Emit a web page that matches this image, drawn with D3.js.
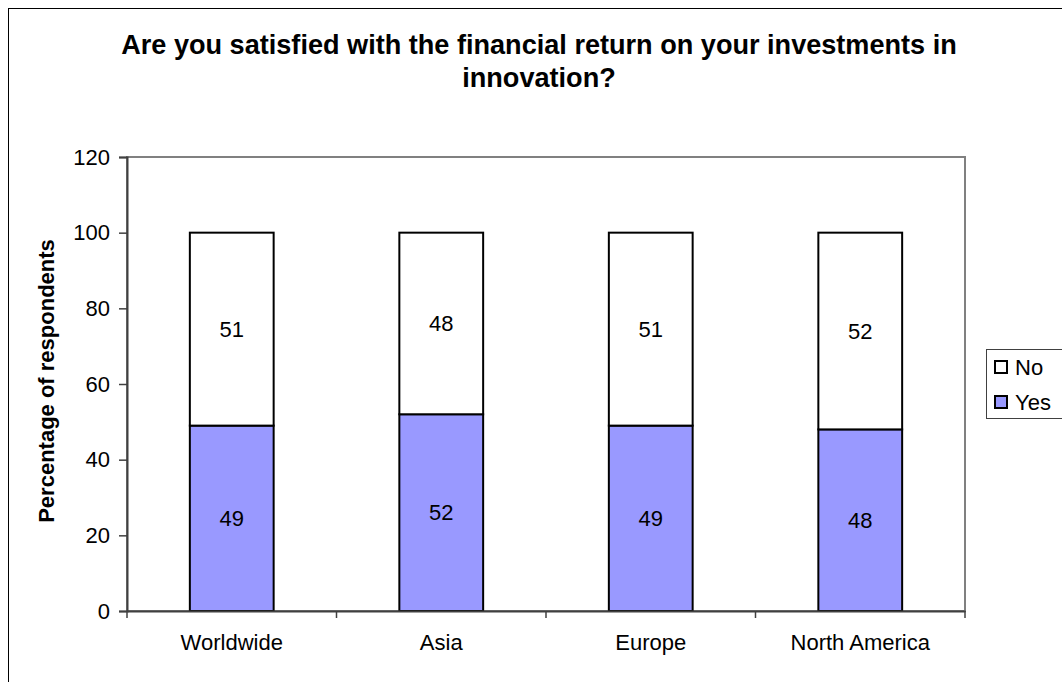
<!DOCTYPE html>
<html><head><meta charset="utf-8">
<script src="https://cdn.jsdelivr.net/npm/d3@7"></script>
<style>body{margin:0;background:#fff;}svg{display:block;font-family:Arial,"Liberation Sans",sans-serif;}</style>
</head><body>
<svg id="c" width="1062" height="682"></svg>
<script>
const categories = ["Worldwide", "Asia", "Europe", "North America"];
const yesValues = [49, 52, 49, 48];
const noValues = [51, 48, 51, 52];
const yTicks = [0, 20, 40, 60, 80, 100, 120];
const seriesNames = ["No", "Yes"];
const titleLines = ["Are you satisfied with the financial return on your investments in", "innovation?"];

const FONT = "Arial,'Liberation Sans',sans-serif";
const svg = d3.select("#c");
const L = 127, R = 965, T = 157, B = 611;

// outer chart border
svg.append("rect").attr("x", 8.5).attr("y", 8.5).attr("width", 1100).attr("height", 700)
  .attr("fill", "none").attr("stroke", "#000").attr("stroke-width", 1);

// title
svg.append("text").attr("text-anchor", "middle")
  .attr("font-weight", "bold").attr("font-size", "27.1px")
  .selectAll("tspan").data(titleLines).join("tspan")
  .attr("x", 539).attr("y", (d, i) => 54 + i * 33).text(d => d);

const x = d3.scaleBand().domain(categories).range([L, R]).paddingInner(0.6).paddingOuter(0.3);
const xb = d3.scaleBand().domain(categories).range([L, R]);
const y = d3.scaleLinear().domain([0, 120]).range([B, T]);

// plot area border (gray)
svg.append("rect").attr("x", L).attr("y", T).attr("width", R - L).attr("height", B - T)
  .attr("fill", "none").attr("stroke", "#808080").attr("stroke-width", 2);

// bars
const data = categories.map((c, i) => ({c, yes: yesValues[i], no: noValues[i]}));
const g = svg.append("g");
g.selectAll("rect.yes").data(data).join("rect").attr("class", "yes")
  .attr("x", d => x(d.c)).attr("width", x.bandwidth())
  .attr("y", d => y(d.yes)).attr("height", d => y(0) - y(d.yes))
  .attr("fill", "#9999FF").attr("stroke", "#000").attr("stroke-width", 2);
g.selectAll("rect.no").data(data).join("rect").attr("class", "no")
  .attr("x", d => x(d.c)).attr("width", x.bandwidth())
  .attr("y", d => y(d.yes + d.no)).attr("height", d => y(d.yes) - y(d.yes + d.no))
  .attr("fill", "#fff").attr("stroke", "#000").attr("stroke-width", 2);

// value labels
g.selectAll("text.yl").data(data).join("text")
  .attr("x", d => x(d.c) + x.bandwidth() / 2).attr("y", d => y(d.yes / 2) + 7.5)
  .attr("text-anchor", "middle").attr("font-size", "22px").text(d => d.yes);
g.selectAll("text.nl").data(data).join("text")
  .attr("x", d => x(d.c) + x.bandwidth() / 2).attr("y", d => y(d.yes + d.no / 2) + 7.5)
  .attr("text-anchor", "middle").attr("font-size", "22px").text(d => d.no);

// y axis
const ya = svg.append("g").attr("transform", `translate(${L},0)`)
  .call(d3.axisLeft(y).tickValues(yTicks).tickSize(8).tickPadding(9));
ya.select(".domain").attr("stroke", "#404040").attr("stroke-width", 2);
ya.selectAll(".tick line").attr("stroke", "#404040").attr("stroke-width", 1.5);
ya.selectAll(".tick text").attr("font-size", "22px").attr("fill", "#000").attr("font-family", FONT);

// x axis
const xa = svg.append("g").attr("transform", `translate(0,${B})`)
  .call(d3.axisBottom(xb).tickSize(0).tickPadding(23));
xa.select(".domain").attr("stroke", "#404040").attr("stroke-width", 2);
xa.selectAll(".tick text").attr("font-size", "22px").attr("fill", "#000").attr("font-family", FONT).attr("dy", "0.71em");
// boundary tick marks
const bounds = categories.map(c => xb(c)).concat([R]);
svg.append("g").selectAll("line").data(bounds).join("line")
  .attr("x1", d => d).attr("x2", d => d).attr("y1", B).attr("y2", B + 7)
  .attr("stroke", "#404040").attr("stroke-width", 1.5);

// y label
svg.append("text").attr("transform", `translate(54,${(T + B) / 2 - 3}) rotate(-90)`)
  .attr("text-anchor", "middle").attr("font-weight", "bold").attr("font-size", "22px")
  .text("Percentage of respondents");

// legend
svg.append("rect").attr("x", 986.5).attr("y", 349.5).attr("width", 100).attr("height", 69)
  .attr("fill", "#fff").attr("stroke", "#404040").attr("stroke-width", 1);
const legColors = {"No": "#fff", "Yes": "#9999FF"};
const lg = svg.append("g").selectAll("g").data(seriesNames).join("g")
  .attr("transform", (d, i) => `translate(994,${375 + i * 35})`);
lg.append("rect").attr("x", 1).attr("y", -14).attr("width", 12).attr("height", 12)
  .attr("fill", d => legColors[d]).attr("stroke", "#000").attr("stroke-width", 2);
lg.append("text").attr("x", 21).attr("y", 0).attr("font-size", "22px").text(d => d);
</script>
</body></html>
